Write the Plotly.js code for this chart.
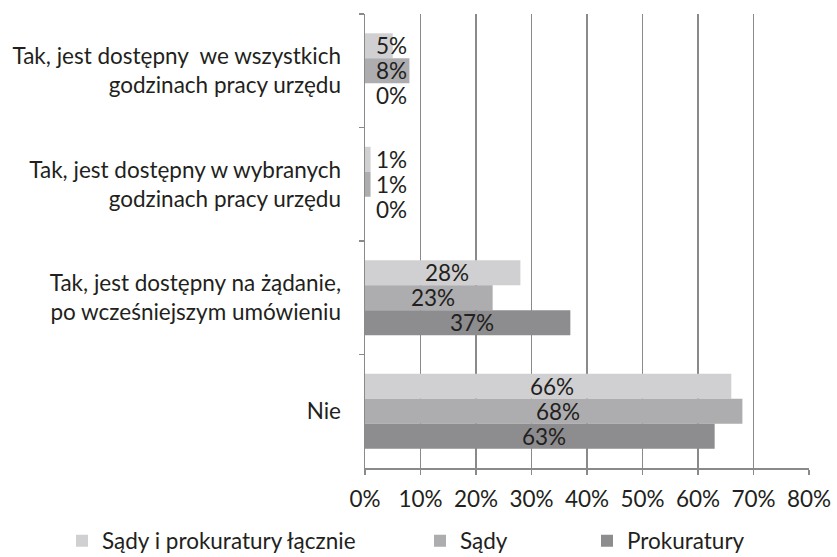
<!DOCTYPE html>
<html><head><meta charset="utf-8">
<script src="https://cdn.plot.ly/plotly-3.0.1.min.js"></script>
<style>html,body{margin:0;padding:0;background:#fff}</style>
</head><body><div id="chart" style="width:837px;height:557px"></div>
<script>
const categories = [
  "Tak, jest dostępny\u00a0 we wszystkich<br>godzinach pracy urzędu",
  "Tak, jest dostępny w wybranych<br>godzinach pracy urzędu",
  "Tak, jest dostępny na żądanie,<br>po wcześniejszym umówieniu",
  "Nie"
];
const seriesNames = ["Sądy i prokuratury łącznie", "Sądy", "Prokuratury"];
const valuesLacznie = [5, 1, 28, 66];
const valuesSady = [8, 1, 23, 68];
const valuesProkuratury = [0, 0, 37, 63];
const xTickValues = [0, 10, 20, 30, 40, 50, 60, 70, 80];

const seriesValues = [valuesLacznie, valuesSady, valuesProkuratury];
const colors = ['#d0d0d2', '#adadaf', '#8d8d8f'];
const legendIds = ['legend', 'legend2', 'legend3'];
const textColor = '#231f20';
const fontFamily = 'Lato, "Open Sans", sans-serif';
const fs = 22.5;
const gridColor = '#8a8a8a';
const bargap = 0.34;

const traces = seriesValues.map((vals, i) => ({
  type: 'bar',
  orientation: 'h',
  name: seriesNames[i],
  x: vals,
  y: categories,
  marker: {color: colors[i]},
  legend: legendIds[i],
  hoverinfo: 'skip'
}));

const barW = (1 - bargap) / 3;
const annotations = [];
seriesValues.forEach((vals, i) => {
  vals.forEach((v, j) => {
    annotations.push({
      xref: 'x', yref: 'y',
      x: Math.max(v / 2, 4.1),
      y: j + (i - 1) * barW,
      text: v + '%',
      showarrow: false,
      xanchor: 'center', yanchor: 'middle',
      xshift: 4,
      font: {family: fontFamily, size: fs, color: textColor}
    });
  });
});

const legendBase = {
  orientation: 'h',
  xref: 'container', yref: 'container',
  yanchor: 'middle', xanchor: 'left',
  y: 1 - 541 / 557,
  font: {family: fontFamily, size: fs, color: textColor},
  bgcolor: 'rgba(0,0,0,0)'
};

const layout = {
  width: 837, height: 557,
  margin: {l: 365, r: 28, t: 14, b: 89, pad: 0},
  paper_bgcolor: '#fff', plot_bgcolor: '#fff',
  font: {family: fontFamily, size: fs, color: textColor},
  barmode: 'group',
  bargap: bargap,
  bargroupgap: 0,
  showlegend: true,
  legend: Object.assign({}, legendBase, {x: 62 / 837}),
  legend2: Object.assign({}, legendBase, {x: 420 / 837}),
  legend3: Object.assign({}, legendBase, {x: 587 / 837}),
  xaxis: {
    range: [0, 80],
    tickvals: xTickValues,
    ticktext: xTickValues.map(v => v + '%'),
    showgrid: true, gridcolor: gridColor, gridwidth: 1.5,
    zeroline: false,
    showline: true, linecolor: gridColor, linewidth: 1.5,
    ticks: 'outside', ticklen: 5, tickcolor: gridColor, tickwidth: 1.5,
    ticklabelstandoff: 5,
    tickfont: {family: fontFamily, size: fs, color: textColor},
    fixedrange: true
  },
  yaxis: {
    type: 'category',
    autorange: 'reversed',
    showgrid: false, zeroline: false,
    showline: true, linecolor: gridColor, linewidth: 1.5,
    ticks: 'outside', tickson: 'boundaries', ticklen: 5, tickcolor: gridColor, tickwidth: 1.5,
    ticklabelstandoff: 18,
    tickfont: {family: fontFamily, size: fs, color: textColor},
    fixedrange: true
  },
  annotations: annotations
};

Plotly.newPlot('chart', traces, layout, {displayModeBar: false, staticPlot: true});
</script>
</body></html>
